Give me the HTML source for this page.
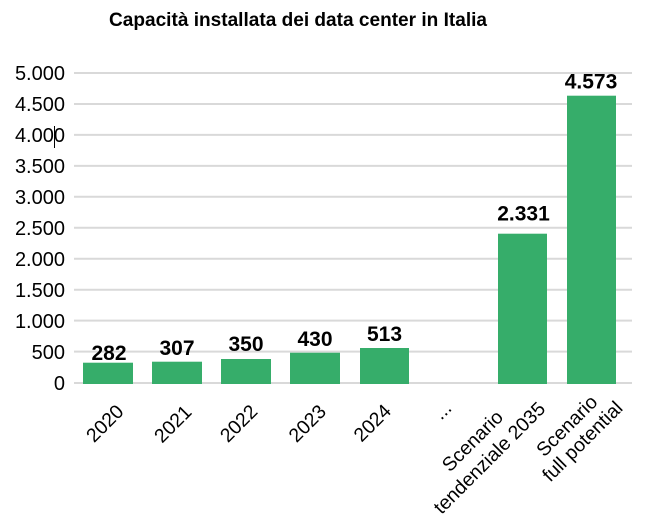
<!DOCTYPE html>
<html>
<head>
<meta charset="utf-8">
<style>
  html, body { margin:0; padding:0; background:#ffffff; }
  svg { display:block; }
  text { font-family: "Liberation Sans", sans-serif; fill:#000; }
</style>
</head>
<body>
<svg width="662" height="517" viewBox="0 0 662 517" xmlns="http://www.w3.org/2000/svg">
  <rect width="662" height="517" fill="#ffffff"/>
  <!-- Title -->
  <text x="109" y="26" font-size="19" font-weight="bold" textLength="378" lengthAdjust="spacingAndGlyphs">Capacità installata dei data center in Italia</text>

  <!-- Gridlines -->
  <g stroke="#d9d9d9" stroke-width="2">
    <line x1="74" y1="73" x2="632" y2="73"/>
    <line x1="74" y1="104" x2="632" y2="104"/>
    <line x1="74" y1="134.9" x2="632" y2="134.9"/>
    <line x1="74" y1="165.9" x2="632" y2="165.9"/>
    <line x1="74" y1="196.8" x2="632" y2="196.8"/>
    <line x1="74" y1="227.8" x2="632" y2="227.8"/>
    <line x1="74" y1="258.7" x2="632" y2="258.7"/>
    <line x1="74" y1="289.7" x2="632" y2="289.7"/>
    <line x1="74" y1="320.6" x2="632" y2="320.6"/>
    <line x1="74" y1="351.6" x2="632" y2="351.6"/>
    <line x1="74" y1="383" x2="632" y2="383"/>
  </g>

  <!-- Y tick labels -->
  <g font-size="20" text-anchor="end">
    <text x="65" y="80">5.000</text>
    <text x="65" y="111">4.500</text>
    <text x="65" y="142">4.000</text>
    <text x="65" y="173">3.500</text>
    <text x="65" y="204">3.000</text>
    <text x="65" y="235">2.500</text>
    <text x="65" y="266">2.000</text>
    <text x="65" y="297">1.500</text>
    <text x="65" y="328">1.000</text>
    <text x="65" y="359">500</text>
    <text x="65" y="390">0</text>
  </g>
  <!-- text cursor artifact -->
  <line x1="54.5" y1="126" x2="54.5" y2="148" stroke="#000" stroke-width="1"/>

  <!-- Bars -->
  <g fill="#36ad6a">
    <rect x="83" y="362.7" width="50" height="21.3"/>
    <rect x="152" y="361.7" width="50" height="22.3"/>
    <rect x="221" y="359" width="50" height="25"/>
    <rect x="290" y="352.7" width="50" height="31.3"/>
    <rect x="360" y="348" width="49" height="36"/>
    <rect x="498" y="233.7" width="49" height="150.3"/>
    <rect x="567" y="95.7" width="49" height="288.3"/>
  </g>

  <!-- Value labels -->
  <g font-size="21" font-weight="bold" text-anchor="middle">
    <text x="109" y="360">282</text>
    <text x="177" y="355">307</text>
    <text x="246" y="351">350</text>
    <text x="315" y="346">430</text>
    <text x="384.5" y="341">513</text>
    <text x="523.5" y="220.7">2.331</text>
    <text x="591" y="88.3">4.573</text>
  </g>

  <!-- X labels -->
  <g font-size="19.5" text-anchor="middle">
    <text transform="translate(109.5,428) rotate(-45)">2020</text>
    <text transform="translate(177.5,428.5) rotate(-45)">2021</text>
    <text transform="translate(243.3,428) rotate(-45)">2022</text>
    <text transform="translate(312,428) rotate(-45)">2023</text>
    <text transform="translate(377,427.5) rotate(-45)">2024</text>
    <text transform="translate(447,415) rotate(-45)">...</text>
  </g>
  <g font-size="19.5" text-anchor="middle">
    <g transform="translate(494,462.5) rotate(-45)">
      <text x="0" y="-24">Scenario</text>
      <text x="0" y="0">tendenziale 2035</text>
    </g>
    <g transform="translate(587,446) rotate(-45)">
      <text x="0" y="-22">Scenario</text>
      <text x="0" y="0">full potential</text>
    </g>
  </g>
</svg>
</body>
</html>
